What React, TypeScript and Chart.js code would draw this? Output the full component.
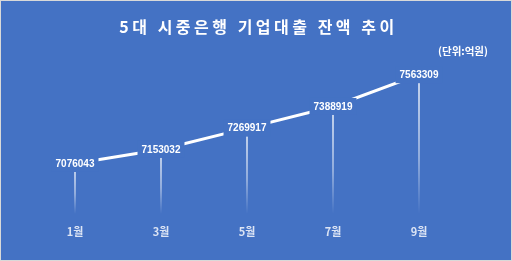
import { useEffect, useRef } from "react";
import { Chart, registerables } from "chart.js";

Chart.register(...registerables);

const categories = ["1월", "3월", "5월", "7월", "9월"];
const balances = [7076043, 7153032, 7269917, 7388919, 7563309];
const titleText = "5대 시중은행 기업대출 잔액 추이";
const unitText = "(단위:억원)";
const yMin = 6800000;
const yMax = 7600000;

const BG = "#4472C4";
const FONT_KR = "'Noto Sans CJK KR', 'Noto Sans', sans-serif";

const bgPlugin = {
  id: "bg",
  beforeDraw(chart: any) {
    const { ctx, width, height } = chart;
    ctx.save();
    ctx.fillStyle = BG;
    ctx.fillRect(0, 0, width, height);
    ctx.strokeStyle = "#D9D9D9";
    ctx.lineWidth = 1;
    ctx.strokeRect(0.5, 0.5, width - 1, height - 1);
    ctx.restore();
  },
};

const dropPlugin = {
  id: "drop",
  beforeDatasetsDraw(chart: any) {
    const { ctx, chartArea } = chart;
    const meta = chart.getDatasetMeta(0);
    ctx.save();
    meta.data.forEach((pt: any) => {
      const g = ctx.createLinearGradient(0, pt.y, 0, chartArea.bottom);
      g.addColorStop(0, "rgba(255,255,255,0.95)");
      g.addColorStop(0.6, "rgba(255,255,255,0.55)");
      g.addColorStop(1, "rgba(255,255,255,0)");
      ctx.strokeStyle = g;
      ctx.lineWidth = 1.5;
      ctx.beginPath();
      ctx.moveTo(pt.x, pt.y);
      ctx.lineTo(pt.x, chartArea.bottom);
      ctx.stroke();
    });
    ctx.restore();
  },
};

const labelPlugin = {
  id: "labels",
  afterDatasetsDraw(chart: any) {
    const { ctx } = chart;
    const meta = chart.getDatasetMeta(0);
    const data = chart.data.datasets[0].data;
    ctx.save();
    ctx.font = "bold 10px 'Liberation Sans', Arial, sans-serif";
    ctx.textAlign = "center";
    ctx.textBaseline = "middle";
    meta.data.forEach((pt: any, i: number) => {
      const txt = String(data[i]);
      const w = ctx.measureText(txt).width + 8;
      const h = 17;
      ctx.fillStyle = BG;
      ctx.fillRect(pt.x - w / 2, pt.y - h / 2, w, h);
      ctx.fillStyle = "#FFFFFF";
      ctx.fillText(txt, pt.x, pt.y + 0.5);
    });
    ctx.restore();
  },
};

const textPlugin = {
  id: "texts",
  afterDraw(chart: any) {
    const { ctx, width } = chart;
    ctx.save();
    ctx.fillStyle = "#FFFFFF";
    ctx.textBaseline = "middle";
    ctx.textAlign = "center";
    ctx.font = `bold 16px ${FONT_KR}`;
    try {
      (ctx as any).letterSpacing = "3.5px";
    } catch (e) {}
    ctx.fillText(titleText, width / 2 + 2.5, 27);
    try {
      (ctx as any).letterSpacing = "0px";
    } catch (e) {}
    ctx.textAlign = "right";
    ctx.font = `bold 10.5px ${FONT_KR}`;
    ctx.fillText(unitText, 488, 51);
    ctx.restore();
  },
};

export default function App() {
  const ref = useRef<HTMLCanvasElement | null>(null);

  useEffect(() => {
    document.body.style.margin = "0";
    const canvas = ref.current;
    if (!canvas) return;
    const chart = new Chart(canvas, {
      type: "line",
      data: {
        labels: categories,
        datasets: [
          {
            data: balances,
            borderColor: "#FFFFFF",
            borderWidth: 3,
            borderCapStyle: "round",
            pointRadius: 0,
            pointHoverRadius: 0,
            tension: 0,
            fill: false,
          },
        ],
      },
      options: {
        responsive: false,
        animation: false,
        devicePixelRatio: 1,
        layout: { padding: { left: 32, right: 50, top: 68, bottom: 12 } },
        plugins: {
          legend: { display: false },
          title: { display: false },
          tooltip: { enabled: false },
        },
        scales: {
          x: {
            offset: true,
            grid: { display: false, drawTicks: false },
            border: { display: false },
            ticks: {
              color: "#DCE4F4",
              padding: 11,
              font: { size: 11, weight: "bold", family: FONT_KR },
            },
          },
          y: {
            display: false,
            min: yMin,
            max: yMax,
          },
        },
      },
      plugins: [bgPlugin, dropPlugin, labelPlugin, textPlugin],
    });
    return () => chart.destroy();
  }, []);

  return <canvas ref={ref} width={512} height={261} style={{ display: "block", width: 512, height: 261 }} />;
}
